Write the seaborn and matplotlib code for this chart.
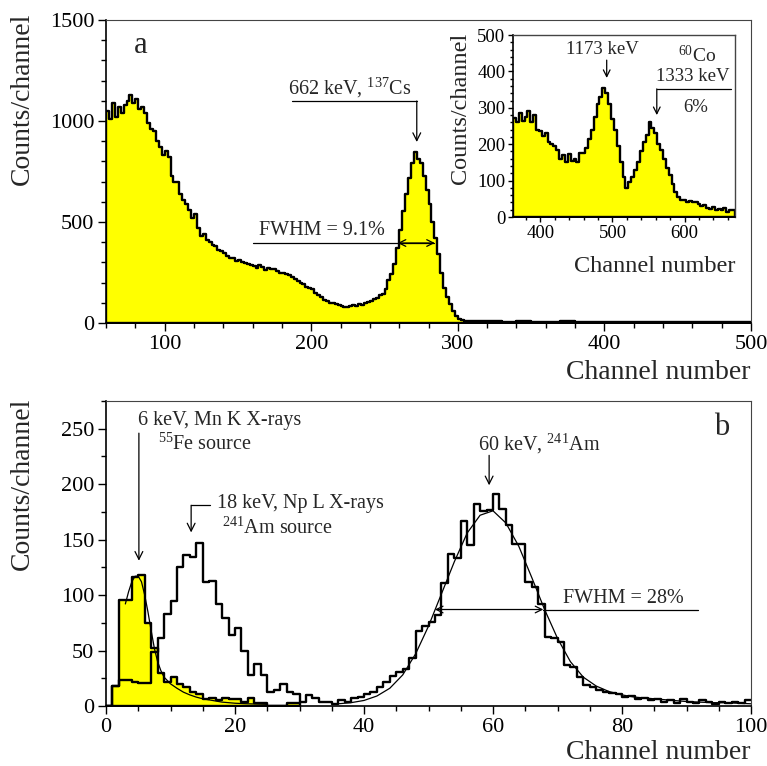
import numpy as np
import pandas as pd
import matplotlib
matplotlib.use("Agg")
import matplotlib.pyplot as plt
from matplotlib.ticker import MultipleLocator
import seaborn as sns

sns.set_style("ticks")
plt.rcParams["font.family"] = ["Liberation Serif", "DejaVu Serif"]
plt.rcParams["mathtext.fontset"] = "custom"
plt.rcParams["mathtext.rm"] = "Liberation Serif"
plt.rcParams["mathtext.it"] = "Liberation Serif:italic"

# ---------------- data: panel a (137Cs spectrum) ----------------
cs_edges = np.concatenate([np.arange(60, 312, 2), np.arange(320, 501, 10)])
cs_counts = [
    1050, 1010, 1090, 1020, 1070, 1040, 1080, 1100, 1130, 1090,
    1110, 1060, 1070, 1040, 990, 960, 950, 900, 870, 830,
    850, 820, 730, 700, 700, 640, 610, 590, 560, 520,
    540, 470, 430, 440, 410, 400, 385, 380, 360, 355,
    345, 330, 322, 320, 305, 310, 300, 295, 290, 288,
    280, 270, 285, 275, 262, 272, 268, 265, 258, 250,
    248, 243, 238, 230, 218, 210, 200, 192, 180, 175,
    168, 150, 140, 128, 115, 110, 100, 98, 92, 90,
    85, 80, 78, 82, 88, 85, 92, 90, 98, 105,
    110, 118, 125, 140, 145, 170, 215, 245, 290, 370,
    460, 555, 640, 720, 790, 845, 810, 790, 730, 660,
    590, 500, 420, 340, 250, 175, 130, 95, 60, 35,
    20, 14, 12, 10, 9,
    8, 9, 7, 8, 6, 7, 8, 6, 7, 5, 6, 7, 6, 5, 6, 7, 5, 6, 5,
]

# ---------------- data: inset (60Co spectrum) ----------------
co_start, co_width = 362, 4
co_counts = [
    272, 260, 285, 265, 275, 290, 262, 280, 240, 235,
    222, 230, 205, 200, 195, 185, 160, 170, 150, 172,
    155, 160, 150, 175, 175, 190, 215, 240, 275, 310,
    330, 355, 340, 310, 270, 240, 195, 150, 110, 80,
    95, 110, 130, 150, 180, 205, 225, 260, 245, 230,
    200, 185, 160, 135, 115, 90, 70, 55, 48, 48,
    42, 45, 40, 42, 35, 30, 32, 25, 22, 28,
    20, 22, 18, 25, 15, 18, 20,
]
co_edges = co_start + co_width * np.arange(len(co_counts) + 1)

# ---------------- data: panel b ----------------
fe_counts = [0, 18, 96, 96, 116, 118, 75, 52, 30, 22,
             26, 20, 17, 13, 11, 6, 7, 5, 7, 6,
             6, 4, 7, 3, 3, 0, 0, 0, 3, 3]
fe_edges = np.arange(len(fe_counts) + 1)

am_counts = [0, 18, 23, 23, 22, 21, 21, 49, 61, 83,
             95, 125, 136, 134, 147, 112, 113, 92, 79, 64,
             70, 50, 28, 38, 28, 13, 14, 20, 13, 11,
             4, 10, 7, 4, 4, 2, 5, 4, 7, 8,
             11, 13, 17, 22, 27, 31, 33, 43, 68, 72,
             76, 82, 111, 137, 133, 167, 145, 182, 176, 177,
             191, 178, 163, 146, 146, 112, 107, 92, 62, 61,
             58, 37, 35, 26, 19, 17, 14, 13, 12, 11,
             8, 9, 6, 7, 5, 6, 4, 5, 3, 6,
             4, 3, 5, 4, 2, 4, 3, 4, 3, 5]
am_edges = np.arange(len(am_counts) + 1)

# fitted curves
fe_fit_x = [3.0, 3.5, 4.0, 4.5, 5.0, 5.5, 6.0, 6.5, 7.0, 7.5, 8.0, 8.5, 9.0, 10, 11, 12,
            13, 14, 15, 16, 17, 18, 20, 22, 25]
fe_fit_y = [92, 103, 112, 117, 117, 112, 100, 85, 68, 52, 40, 32, 26, 20, 16, 12.5,
            10, 8, 6.5, 5.5, 4.5, 3.5, 2.5, 2, 1.5]
am_fit_x = [36, 38, 40, 42, 44, 46, 48, 50, 52, 54, 56, 58, 60, 62, 64, 66, 68,
            70, 72, 74, 76, 78, 80, 82, 84, 86, 88, 90, 92, 94, 96, 98, 100]
am_fit_y = [2, 3, 5, 9, 16, 28, 47, 72, 101, 130, 156, 172, 176, 165, 144, 116, 87,
            61, 40, 26, 18, 13, 10, 8, 7, 6, 5, 4, 3.5, 3, 3, 2.5, 2]

YELLOW = "#ffff00"
TICK_FS = 16
LABEL_FS = 20
ANN_FS = 14.5


def draw_hist(ax, edges, counts, fill, lw=1.7):
    edges = [float(e) for e in edges]
    centers = [0.5 * (a + b) for a, b in zip(edges[:-1], edges[1:])]
    df = pd.DataFrame({"channel": centers, "counts": [float(c) for c in counts]})
    if fill:
        sns.histplot(data=df, x="channel", weights="counts", bins=edges,
                     element="step", fill=True, color=YELLOW, edgecolor="black",
                     linewidth=lw, alpha=1, ax=ax)
    else:
        sns.histplot(data=df, x="channel", weights="counts", bins=edges,
                     element="step", fill=False, color="black", linewidth=lw,
                     ax=ax)


def style(ax, xlim, ylim, xmaj, xmin, ymaj, ymin, fs, lw_frame=1.0,
          lmaj=5.5, lmin=3.5, pad=3):
    ax.set_xlim(*xlim)
    ax.set_ylim(*ylim)
    ax.xaxis.set_major_locator(MultipleLocator(xmaj))
    ax.xaxis.set_minor_locator(MultipleLocator(xmin))
    ax.yaxis.set_major_locator(MultipleLocator(ymaj))
    ax.yaxis.set_minor_locator(MultipleLocator(ymin))
    ax.tick_params(which="both", direction="out", labelsize=fs, width=1.0,
                   colors="black", pad=pad)
    ax.tick_params(which="major", length=lmaj)
    ax.tick_params(which="minor", length=lmin)
    for s in ("left", "bottom"):
        ax.spines[s].set_linewidth(1.2)
        ax.spines[s].set_color("black")
    for s in ("top", "right"):
        ax.spines[s].set_visible(True)
        ax.spines[s].set_linewidth(lw_frame)
        ax.spines[s].set_color("#444444")


def labels(ax, xl, yl, fs, xly, ylx, yly):
    ax.set_xlabel(xl, fontsize=fs)
    ax.xaxis.label.set(ha="right", va="center")
    ax.xaxis.set_label_coords(1.0, xly)
    ax.set_ylabel(yl, fontsize=fs)
    ax.yaxis.label.set(rotation_mode="default", ha="center", va="top")
    ax.yaxis.set_label_coords(ylx, yly)


def arrow(ax, x0, y0, x1, y1, style="->", lw=0.9, ms=14):
    ax.annotate("", xy=(x1, y1), xytext=(x0, y0),
                arrowprops=dict(arrowstyle=style, lw=lw, color="black",
                                mutation_scale=ms, shrinkA=0, shrinkB=0))


fig = plt.figure(figsize=(7.67, 7.66), dpi=100)
W, H = 767.0, 766.0
ax_a = fig.add_axes([106 / W, 1 - 323 / H, 645 / W, 303 / H])
ax_b = fig.add_axes([106 / W, 1 - 706 / H, 645 / W, 305 / H])
ax_in = fig.add_axes([513 / W, 1 - 217 / H, 222 / W, 182 / H])

# ---------------- panel a ----------------
draw_hist(ax_a, cs_edges, cs_counts, fill=True)
style(ax_a, (60, 500), (0, 1500), 100, 20, 500, 100, TICK_FS, lw_frame=0.8)
labels(ax_a, "Channel number", "Counts/channel", LABEL_FS, -0.163, -0.130, 1.023)
ax_a.text(84, 1376, "a", fontsize=22, ha="center", va="center")
ax_a.text(226, 1163, "662 keV, $^{137}$Cs", fontsize=ANN_FS, ha="center", va="center")
ax_a.plot([187, 272], [1099, 1099], color="black", lw=0.9)
arrow(ax_a, 272, 1099, 272, 896)
ax_a.text(207, 460, "FWHM = 9.1%", fontsize=ANN_FS, ha="center", va="center")
ax_a.plot([160, 284], [396, 396], color="black", lw=0.9)
arrow(ax_a, 259, 396, 284.3, 396, style="<->", ms=12)

# ---------------- inset ----------------
ax_in.set_facecolor("white")
draw_hist(ax_in, co_edges, co_counts, fill=True, lw=1.7)
style(ax_in, (362, 670), (0, 500), 100, 20, 100, 20, 13.5, lw_frame=1.0,
      lmaj=3.5, lmin=2.2, pad=2)
labels(ax_in, "Channel number", "Counts/channel", 17.5, -0.27, -0.235, 1.011)
ax_in.text(486, 459, "1173 keV", fontsize=13.5, ha="center", va="center")
arrow(ax_in, 492, 431, 492, 382, ms=12)
ax_in.text(617, 445, "$^{60}$Co", fontsize=14, ha="center", va="center")
ax_in.text(612, 385, "1333 keV", fontsize=13.5, ha="center", va="center")
ax_in.plot([561.5, 665], [352, 352], color="black", lw=0.9)
arrow(ax_in, 561.5, 352, 561.5, 280, ms=12)
ax_in.text(616, 302, "6%", fontsize=13.5, ha="center", va="center")

# ---------------- panel b ----------------
draw_hist(ax_b, fe_edges, fe_counts, fill=True)
draw_hist(ax_b, am_edges, am_counts, fill=False)
sns.lineplot(x=fe_fit_x, y=fe_fit_y, ax=ax_b, color="black", lw=0.9,
             sort=False, estimator=None)
sns.lineplot(x=am_fit_x, y=am_fit_y, ax=ax_b, color="black", lw=0.9,
             sort=False, estimator=None)
style(ax_b, (0, 100), (0, 275), 20, 5, 50, 25, TICK_FS, lw_frame=0.8)
labels(ax_b, "Channel number", "Counts/channel", LABEL_FS, -0.152, -0.130, 1.01)
ax_b.text(95.5, 251, "b", fontsize=22, ha="center", va="center")
ax_b.text(4.96, 257, "6 keV, Mn K X-rays", fontsize=ANN_FS, ha="left", va="center")
ax_b.text(8.06, 236.5, "$^{55}$Fe source", fontsize=ANN_FS, ha="left", va="center")
arrow(ax_b, 5.1, 246, 5.1, 131)
ax_b.text(17.2, 182.5, "18 keV, Np L X-rays", fontsize=ANN_FS, ha="left", va="center")
ax_b.text(18.0, 160, "$^{241}$Am source", fontsize=ANN_FS, ha="left", va="center")
ax_b.plot([16.1, 13.2], [181, 181], color="black", lw=0.9)
arrow(ax_b, 13.2, 181, 13.2, 156.5)
ax_b.text(57.7, 236.5, "60 keV, $^{241}$Am", fontsize=ANN_FS, ha="left", va="center")
arrow(ax_b, 59.4, 226, 59.4, 199)
ax_b.text(70.9, 97, "FWHM = 28%", fontsize=ANN_FS, ha="left", va="center")
ax_b.plot([67.8, 91.8], [87, 87], color="black", lw=0.9)
arrow(ax_b, 51.0, 87, 67.8, 87, style="<->", ms=12)

fig.savefig("out.png", dpi=100)
